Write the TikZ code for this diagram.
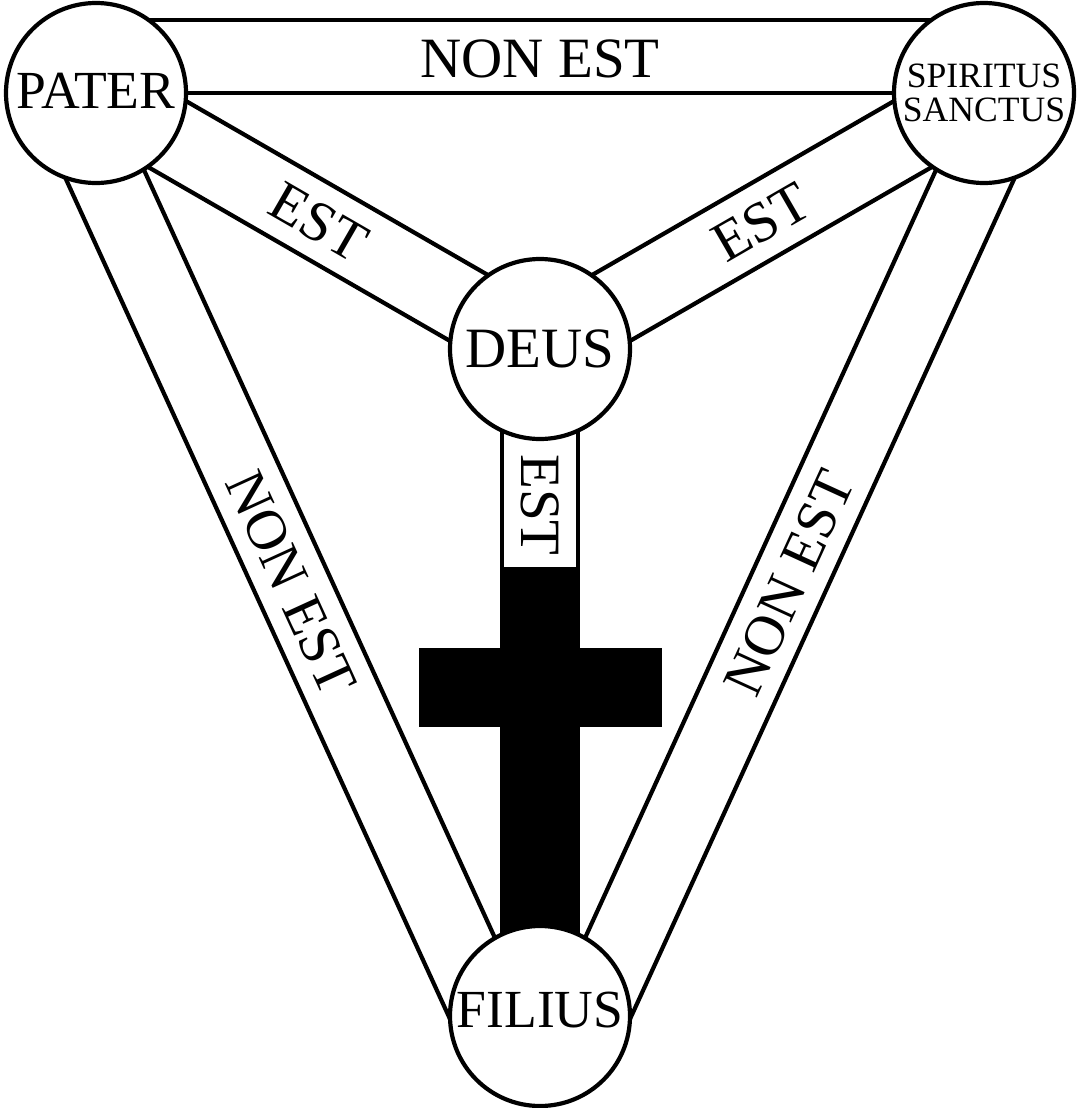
\documentclass[tikz,border=0pt]{standalone}
\usepackage{fontspec}
\setmainfont{Liberation Serif}
\usetikzlibrary{calc}
\usetikzlibrary{backgrounds}

\tikzset{
    person/.style={circle, draw, fill=white, line width=2.1pt, minimum size=90pt,
        inner sep=0pt, outer sep=0pt, font=\fontsize{26.8}{26.8}\selectfont},
    band/.style={line width=2.1pt, shorten <=-5pt, shorten >=-5pt},
    bandlabel/.style={inner sep=0pt, font=\fontsize{28.5}{28.5}\selectfont}
}

\begin{document}
\begin{tikzpicture}[x=0.5pt, y=-0.5pt]
            \useasboundingbox (0,0) rectangle (1080,1108);
            \node[person, text depth=2.5pt] (P) at (96,93) {PATER};
            \node[person, align=center, font=\fontsize{17.8}{17}\selectfont] (SS) at (984,93) {SPIRITUS\\SANCTUS};
            \node[person, font=\fontsize{28.5}{28.5}\selectfont] (D) at (540,349) {DEUS};
            \node[person, text depth=6.5pt] (F) at (540,1016) {FILIUS};
            \begin{scope}[on background layer]
                % non est
                \draw[band] (P.0) to (SS.180);
                \draw[band] (P.54) to (SS.126);
                \draw[band] (P.-110) to (F.182);
                \draw[band] (P.-58) to (F.120);
                \draw[band] (SS.-70) to (F.-2);
                \draw[band] (SS.238) to (F.60);
                % est
                \draw[band] (P.-5) to (D.125);
                \draw[band] (P.-55) to (D.175);
                \draw[band] (SS.185) to (D.55);
                \draw[band] (SS.235) to (D.5);
                \draw[band] (D.245) to (F.115);
                \draw[band] (D.295) to (F.65);
                % cross
                \fill (500,567) rectangle (580,1016);
                \fill (419,648) rectangle (662,727);
            \end{scope}
            \node[bandlabel] (PSS) at (540,59) {NON EST};
            \node[bandlabel, rotate=-30] (PD) at (319,222) {EST};
            \node[bandlabel, rotate=30] (SSD) at (761,222) {EST};
            \node[bandlabel, rotate=-90] (DF) at (540,505) {EST};
            \node[bandlabel, rotate=-65.4] (PF) at (291,583) {NON EST};
            \node[bandlabel, rotate=65.4] (SSF) at (789,583) {NON EST};
        \end{tikzpicture}
\end{document}
